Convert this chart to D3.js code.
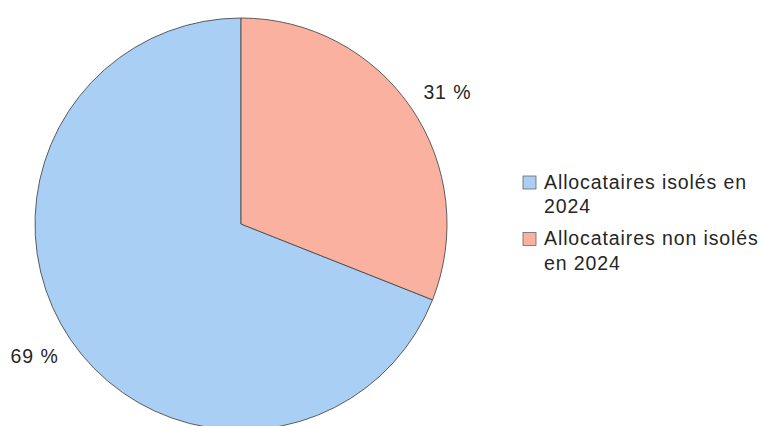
<!DOCTYPE html>
<html>
<head>
<meta charset="utf-8">
<script src="https://cdn.jsdelivr.net/npm/d3@7"></script>
<style>
  body { margin: 0; background: #fff; }
  text { font-family: "Liberation Sans", Arial, sans-serif; fill: #262626; letter-spacing: 0.9px; }
</style>
</head>
<body>
<div id="chart-area"></div>
<script>
// Données
var categories = ["Allocataires isolés en 2024", "Allocataires non isolés en 2024"];
var values = [69, 31];
var legendLines = [["Allocataires isolés en", "2024"], ["Allocataires non isolés", "en 2024"]];
var colors = ["#aacff4", "#fbb19f"];

var width = 761, height = 426;
var cx = 241, cy = 224, radius = 206;

var svg = d3.select("#chart-area").append("svg")
    .attr("width", width)
    .attr("height", height);

var g = svg.append("g")
    .attr("transform", "translate(" + cx + "," + cy + ")");

// Le premier secteur commence après la part des non isolés
var start = values[1] / d3.sum(values) * 2 * Math.PI;
var pie = d3.pie()
    .sort(null)
    .startAngle(start)
    .endAngle(start + 2 * Math.PI);

var arcs = pie(values);

var arc = d3.arc().innerRadius(0).outerRadius(radius);

// position des étiquettes (légèrement décalées comme dans l'original)
function labelPos(d) {
    var a = (d.startAngle + d.endAngle) / 2 + 0.028;
    var r = 245;
    return [Math.sin(a) * r, -Math.cos(a) * r];
}

g.selectAll("path.slice")
    .data(arcs)
    .enter().append("path")
    .attr("class", "slice")
    .attr("d", arc)
    .attr("fill", function(d, i) { return colors[i]; })
    .attr("stroke", "#4d4d4d")
    .attr("stroke-width", 0.9);

// Étiquettes en pourcentage
g.selectAll("text.pct")
    .data(arcs)
    .enter().append("text")
    .attr("class", "pct")
    .attr("x", function(d) { return labelPos(d)[0]; })
    .attr("y", function(d) { return labelPos(d)[1]; })
    .attr("text-anchor", "middle")
    .attr("dominant-baseline", "central")
    .style("font-size", "19.5px")
    .text(function(d) { return Math.round(d.data) + " %"; });

// Légende
var legend = svg.append("g").attr("transform", "translate(523,176)");
var item = legend.selectAll("g")
    .data(categories)
    .enter().append("g")
    .attr("transform", function(d, i) { return "translate(0," + i * 56.5 + ")"; });

item.append("rect")
    .attr("width", 13)
    .attr("height", 13)
    .attr("fill", function(d, i) { return colors[i]; })
    .attr("stroke", "#666")
    .attr("stroke-width", 0.8);

item.append("text")
    .attr("x", 21)
    .attr("y", 12.5)
    .style("font-size", "19.5px")
    .selectAll("tspan")
    .data(function(d, i) { return legendLines[i]; })
    .enter().append("tspan")
    .attr("x", 21)
    .attr("dy", function(d, j) { return j === 0 ? 0 : 24.5; })
    .text(function(d) { return d; });
</script>
</body>
</html>
